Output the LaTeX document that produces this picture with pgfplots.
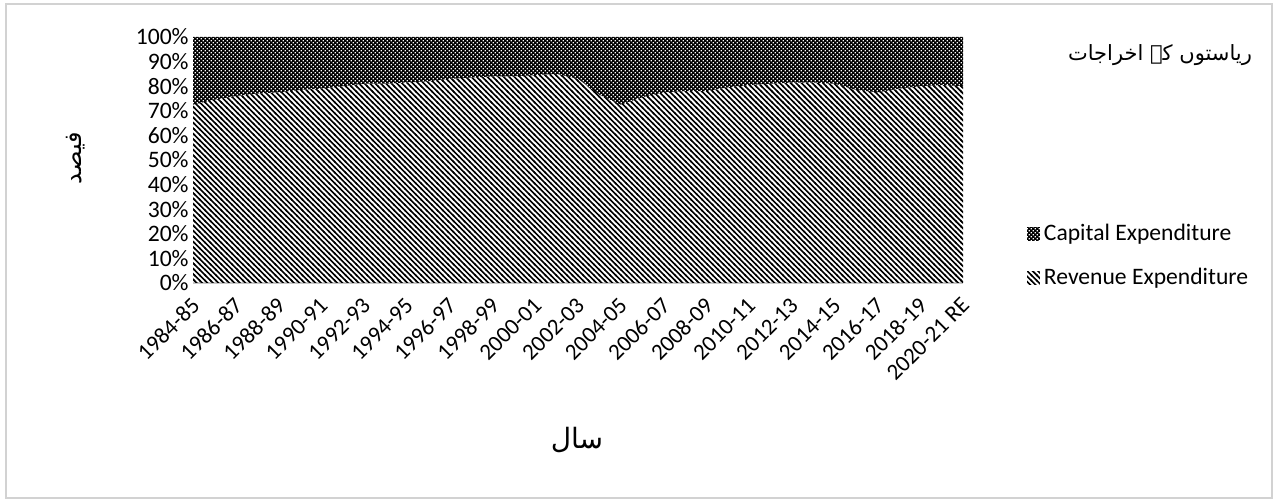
\documentclass[border=0pt]{standalone}
\usepackage{pgfplots}
\pgfplotsset{compat=1.18}
\usepackage{pgfplotstable}
\usepackage{fontspec}
\setmainfont{Carlito}
\newfontfamily\urdu[Script=Arabic]{DejaVu Sans}
\TeXXeTstate=1
\usetikzlibrary{patterns}

\pgfdeclarepatternformonly{diagpat}{\pgfqpoint{-0.5pt}{-0.5pt}}{\pgfqpoint{3.2pt}{3.2pt}}{\pgfqpoint{2.7pt}{2.7pt}}{%
  \pgfsetlinewidth{0.8pt}%
  \pgfpathmoveto{\pgfqpoint{-0.5pt}{3.2pt}}%
  \pgfpathlineto{\pgfqpoint{3.2pt}{-0.5pt}}%
  \pgfusepath{stroke}}
\pgfdeclarepatternformonly{checkpat}{\pgfqpoint{0pt}{0pt}}{\pgfqpoint{2.4pt}{2.4pt}}{\pgfqpoint{2pt}{2pt}}{%
  \pgfpathrectangle{\pgfqpoint{0pt}{0pt}}{\pgfqpoint{1.35pt}{1.35pt}}%
  \pgfpathrectangle{\pgfqpoint{1pt}{1pt}}{\pgfqpoint{1.35pt}{1.35pt}}%
  \pgfusepath{fill}}

\pgfplotstableread{
x rev cap
0 72.5 27.5
1 74.5 25.5
2 76 24
3 77 23
4 77.5 22.5
5 78.5 21.5
6 79 21
7 80 20
8 81 19
9 81 19
10 81.5 18.5
11 82 18
12 83 17
13 83.5 16.5
14 84 16
15 84 16
16 84.5 15.5
17 85 15
18 83 17
19 76.5 23.5
20 72.5 27.5
21 75.5 24.5
22 77.5 22.5
23 78 22
24 78 22
25 79.5 20.5
26 80.5 19.5
27 81 19
28 81.5 18.5
29 81.5 18.5
30 81 19
31 78.5 21.5
32 77.5 22.5
33 79 21
34 80 20
35 80.5 19.5
36 80 20
}\datatable

\begin{document}
\begin{tikzpicture}
\path[use as bounding box] (0pt,0pt) rectangle (639pt,251pt);
\draw[gray!35, line width=0.6pt] (3pt,2pt) rectangle (636pt,249pt);
\begin{axis}[
  at={(96.5pt,109.5pt)}, anchor=south west,
  scale only axis, width=385pt, height=123pt,
  xmin=0, xmax=36, ymin=0, ymax=100,
  stack plots=y,
  axis x line*=bottom, axis y line*=left,
  x axis line style={gray!45, line width=0.6pt},
  y axis line style={draw=none},
  tick style={draw=none},
  xtick={0,2,...,36},
  xticklabels={1984-85,1986-87,1988-89,1990-91,1992-93,1994-95,1996-97,1998-99,2000-01,2002-03,2004-05,2006-07,2008-09,2010-11,2012-13,2014-15,2016-17,2018-19,2020-21 RE},
  xticklabel style={xshift=-1.5pt, yshift=-5pt, rotate=45, anchor=north east, font=\fontsize{11.5}{13}\selectfont, inner sep=1pt},
  ytick={0,10,...,100},
  yticklabels={0\%,10\%,20\%,30\%,40\%,50\%,60\%,70\%,80\%,90\%,100\%},
  yticklabel style={font=\fontsize{11.8}{13}\selectfont, inner sep=2pt},
  legend style={draw=none, fill=none, at={(1.075,0.11)}, anchor=west,
    font=\fontsize{11.8}{13}\selectfont, row sep=8pt,
    /tikz/every even column/.append style={column sep=0pt}},
  legend cell align=left,
  reverse legend,
  legend image code/.code={\path[#1] (0pt,-3.2pt) rectangle (6.4pt,3.2pt);},
]
\addplot[draw=none, pattern=diagpat] table[x=x, y=rev] {\datatable} \closedcycle;
\addlegendentry{Revenue Expenditure}
\addplot[draw=none, pattern=checkpat] table[x=x, y=cap] {\datatable} \closedcycle;
\addlegendentry{Capital Expenditure}
\end{axis}
\node at (580pt,223.5pt) {\fontsize{10.5}{13}\selectfont\urdu\beginR ریاستوں کے اخراجات\endR};
\node[rotate=90] at (38pt,172pt) {\fontsize{12}{14}\selectfont\urdu\beginR فیصد\endR};
\node at (288.5pt,31pt) {\fontsize{14}{16}\selectfont\urdu\beginR سال\endR};
\end{tikzpicture}
\end{document}
